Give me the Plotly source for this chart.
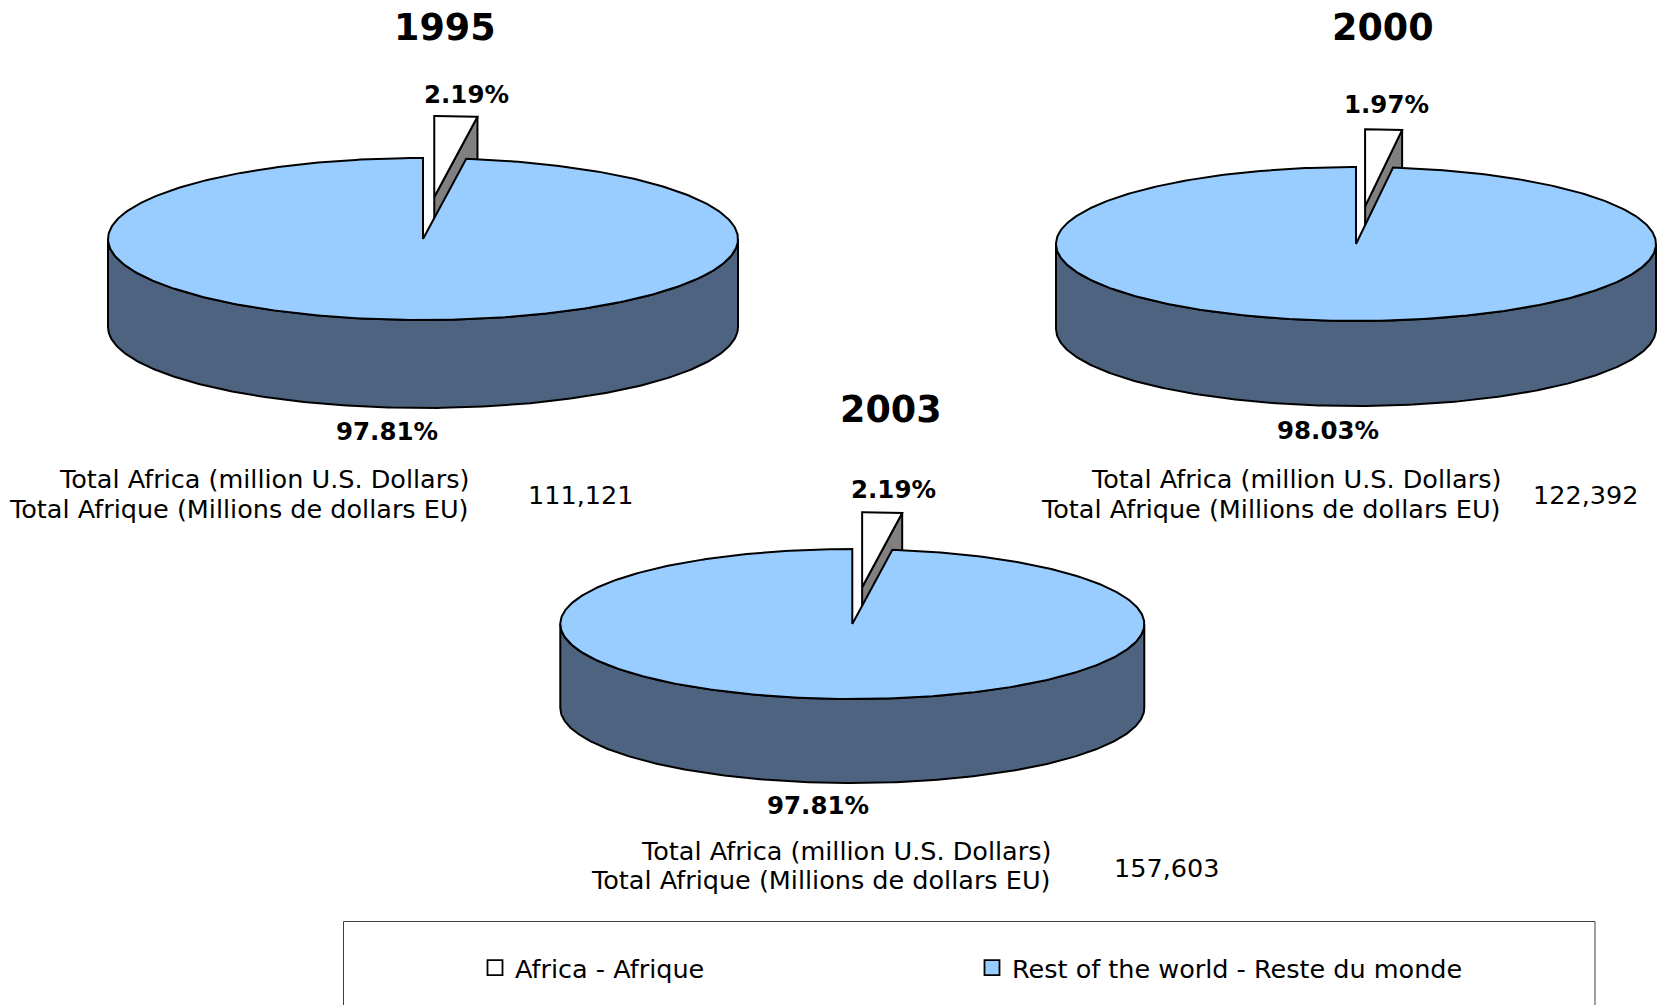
import numpy as np
import plotly.graph_objects as go

# ---------------- data ----------------
years = ["1995", "2000", "2003"]
africa_pct = [2.19, 1.97, 2.19]
rest_pct = [97.81, 98.03, 97.81]
totals = [111121, 122392, 157603]
series_names = ["Africa - Afrique", "Rest of the world - Reste du monde"]
total_label_en = "Total Africa (million U.S. Dollars)"
total_label_fr = "Total Afrique (Millions de dollars EU)"

# ---------------- styles / layout ----------------
W, H = 1657, 1005
FONT = "DejaVu Sans"
C_AFRICA = "#FFFFFF"
C_AFRICA_SIDE = "#808080"
C_REST = "#99CCFF"
C_REST_SIDE = "#4D6380"
EDGE = dict(color="black", width=2)

# geometry of each pie (pixel space)
pies = [
    dict(cx=423, cy=239, rx=315, ry=81, depth=88, explode=0.52,
         title_xy=(445, 27), a_lab=(466, 94), r_lab=(387, 431),
         txt_right=471, txt_y=(479, 509), tot_xy=(580, 495)),
    dict(cx=1356, cy=244, rx=300, ry=77, depth=85, explode=0.49,
         title_xy=(1383, 27), a_lab=(1386, 104), r_lab=(1328, 430),
         txt_right=1502.5, txt_y=(479, 509), tot_xy=(1585, 495)),
    dict(cx=852.3, cy=624, rx=292, ry=75, depth=84, explode=0.49,
         title_xy=(891, 409), a_lab=(893, 489), r_lab=(818, 805),
         txt_right=1053, txt_y=(851, 880), tot_xy=(1166, 868)),
]


def rim(cx, cy, rx, ry, t0, t1, n=240, dy=0.0):
    t = np.linspace(t0, t1, n)
    return list(cx + rx * np.sin(t)), list(cy - ry * np.cos(t) + dy)


def poly(xs, ys, fill):
    return go.Scatter(x=xs, y=ys, mode="lines", fill="toself", fillcolor=fill,
                      line=EDGE, hoverinfo="skip", showlegend=False)


fig = go.Figure()
annotations = []

for i, p in enumerate(pies):
    cx, cy, rx, ry, d, e = p["cx"], p["cy"], p["rx"], p["ry"], p["depth"], p["explode"]
    share = africa_pct[i] / (africa_pct[i] + rest_pct[i])
    a = 2 * np.pi * share
    mid = a / 2
    ox, oy = e * rx * np.sin(mid), -e * ry * np.cos(mid)
    wx, wy = cx + ox, cy + oy  # apex of exploded wedge

    # wedge cut face (visible side, at angle a)
    ex, ey = wx + rx * np.sin(a), wy - ry * np.cos(a)
    fig.add_trace(poly([wx, ex, ex, wx, wx], [wy, ey, ey + d, wy + d, wy], C_AFRICA_SIDE))
    # wedge top face
    xs, ys = rim(wx, wy, rx, ry, 0, a, 40)
    fig.add_trace(poly([wx] + xs + [wx], [wy] + ys + [wy], C_AFRICA))

    # main pie front wall
    xt, yt = rim(cx, cy, rx, ry, np.pi / 2, 3 * np.pi / 2)
    xb, yb = rim(cx, cy, rx, ry, 3 * np.pi / 2, np.pi / 2, dy=d)
    fig.add_trace(poly(xt + xb + [xt[0]], yt + yb + [yt[0]], C_REST_SIDE))
    # main pie top face
    xs, ys = rim(cx, cy, rx, ry, a, 2 * np.pi, 400)
    fig.add_trace(poly([cx] + xs + [cx], [cy] + ys + [cy], C_REST))

    # texts
    tx, ty = p["title_xy"]
    annotations.append(dict(x=tx, y=ty, text=f"<b>{years[i]}</b>", font=dict(size=36.5)))
    lx, ly = p["a_lab"]
    annotations.append(dict(x=lx, y=ly, text=f"<b>{africa_pct[i]:.2f}%</b>", font=dict(size=24.5)))
    lx, ly = p["r_lab"]
    annotations.append(dict(x=lx, y=ly, text=f"<b>{rest_pct[i]:.2f}%</b>", font=dict(size=24.5)))
    y1, y2 = p["txt_y"]
    annotations.append(dict(x=p["txt_right"], y=y1, text=total_label_en, xanchor="right", font=dict(size=25.5)))
    annotations.append(dict(x=p["txt_right"], y=y2, text=total_label_fr, xanchor="right", font=dict(size=25.5)))
    vx, vy = p["tot_xy"]
    annotations.append(dict(x=vx, y=vy, text=f"{totals[i]:,}", font=dict(size=25.5)))

for an in annotations:
    an.setdefault("xanchor", "center")
    an.update(xref="x", yref="y", showarrow=False, yanchor="middle")
    an["font"] = dict(family=FONT, color="black", **an["font"])

# legend entries
for name, col in zip(series_names, [C_AFRICA, C_REST]):
    fig.add_trace(go.Scatter(x=[None], y=[None], mode="markers", name=name,
                             marker=dict(symbol="square", size=15, color=col,
                                         line=dict(color="black", width=1.8))))

fig.update_layout(
    width=W, height=H,
    margin=dict(l=0, r=0, t=0, b=0),
    paper_bgcolor="white", plot_bgcolor="white",
    xaxis=dict(range=[0, W], visible=False, fixedrange=True),
    yaxis=dict(range=[H, 0], visible=False, fixedrange=True),
    annotations=annotations,
    shapes=[dict(type="rect", xref="x", yref="y", x0=343.5, y0=921.5, x1=1595, y1=H + 30,
                 line=dict(color="#404040", width=1), fillcolor="rgba(0,0,0,0)", layer="below")],
    showlegend=True,
    legend=dict(orientation="h", x=475 / W, xanchor="left",
                y=1 - 968 / H, yanchor="middle",
                font=dict(family=FONT, size=25.5, color="black"),
                entrywidth=452, entrywidthmode="pixels",
                bgcolor="rgba(0,0,0,0)", borderwidth=0),
)

fig.write_html("out.html",
               config={"displayModeBar": False},
               post_script="document.body.style.margin='0';document.body.style.overflow='hidden';")
